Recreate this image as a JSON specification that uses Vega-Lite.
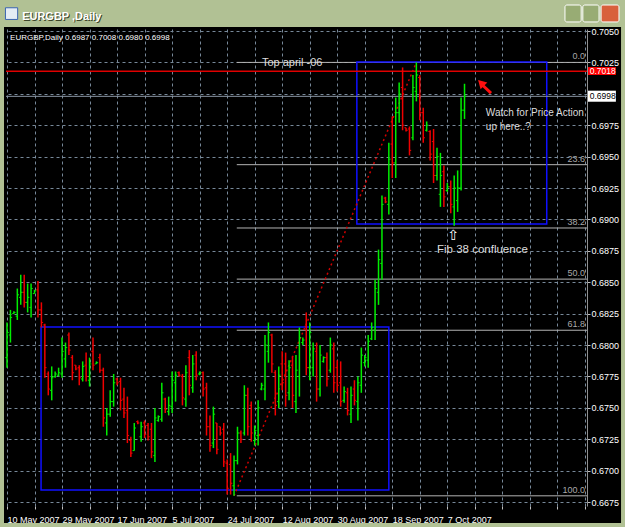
{
"$schema": "https://vega.github.io/schema/vega-lite/v6.json",
"width": 581, "height": 477,
"autosize": {"type": "none"},
"padding": {"left": 6, "top": 29, "right": 38, "bottom": 21},
"background": "#000000",
"config": {"view": {"stroke": null}, "text": {"font": "Liberation Sans"},
  "axis": {"title": null, "labelOverlap": false, "labelBound": false, "labelFlush": false, "labelLimit": 0, "tickCount": 100}},
"datasets": {
"one": [{}],
"frame": [
{"x1": -10, "x2": 190, "y1": 0.70532, "y2": 0.7095},
{"x1": -10, "x2": -0.87, "y1": 0.6600, "y2": 0.70532},
{"x1": 178.5, "x2": 190, "y1": 0.6600, "y2": 0.70532},
{"x1": -10, "x2": 190, "y1": 0.6600, "y2": 0.66584}
],
"boxes": [
{"x1": 9.9, "x2": 111.0, "y1": 0.66846, "y2": 0.68144},
{"x1": 101.7, "x2": 156.9, "y1": 0.68964, "y2": 0.70253}
],
"fib": [
{"lvl": "0.0", "p": 0.7025},
{"lvl": "23.6", "p": 0.69436},
{"lvl": "38.2", "p": 0.68932},
{"lvl": "50.0", "p": 0.68525},
{"lvl": "61.8", "p": 0.68118},
{"lvl": "100.0", "p": 0.6680}
],
"trend": [{"i": 66, "p": 0.6680}, {"i": 119, "p": 0.7025}],
"pbox": [
{"k": "0.7018", "p": 0.7018, "y1": 0.70213, "y2": 0.70150},
{"k": "0.6998", "p": 0.6998, "y1": 0.70025, "y2": 0.69937}
],
"buttons": [
{"g": "min", "x1": 162.2, "x2": 166.9, "y1": 0.70707, "y2": 0.70572},
{"g": "max", "x1": 167.4, "x2": 172.1, "y1": 0.70707, "y2": 0.70572},
{"g": "close", "x1": 172.7, "x2": 177.9, "y1": 0.70707, "y2": 0.70572}
],
"bars": [
{"i":0,"o":0.6790,"h":0.6818,"l":0.6782,"c":0.6810},
{"i":1,"o":0.6808,"h":0.6828,"l":0.6802,"c":0.6822},
{"i":2,"o":0.6825,"h":0.6827,"l":0.6825,"c":0.6826},
{"i":3,"o":0.6823,"h":0.6845,"l":0.6820,"c":0.6840},
{"i":4,"o":0.6838,"h":0.6856,"l":0.6832,"c":0.6842},
{"i":5,"o":0.6842,"h":0.6856,"l":0.6830,"c":0.6834},
{"i":6,"o":0.6834,"h":0.6849,"l":0.6826,"c":0.6838},
{"i":7,"o":0.6830,"h":0.6849,"l":0.6822,"c":0.6845},
{"i":8,"o":0.6841,"h":0.6844,"l":0.6841,"c":0.6843},
{"i":9,"o":0.6844,"h":0.6851,"l":0.6822,"c":0.6828},
{"i":10,"o":0.6828,"h":0.6834,"l":0.6814,"c":0.6818},
{"i":11,"o":0.6816,"h":0.6817,"l":0.6774,"c":0.6782},
{"i":12,"o":0.6777,"h":0.6779,"l":0.6760,"c":0.6765},
{"i":13,"o":0.6764,"h":0.6783,"l":0.6756,"c":0.6774},
{"i":14,"o":0.6775,"h":0.6779,"l":0.6774,"c":0.6777},
{"i":15,"o":0.6776,"h":0.6782,"l":0.6775,"c":0.6778},
{"i":16,"o":0.6777,"h":0.6806,"l":0.6774,"c":0.6795},
{"i":17,"o":0.6789,"h":0.6802,"l":0.6782,"c":0.6798},
{"i":18,"o":0.6808,"h":0.6810,"l":0.6792,"c":0.6796},
{"i":19,"o":0.6790,"h":0.6792,"l":0.6772,"c":0.6778},
{"i":20,"o":0.6784,"h":0.6784,"l":0.6780,"c":0.6781},
{"i":21,"o":0.6782,"h":0.6784,"l":0.6768,"c":0.6774},
{"i":22,"o":0.6773,"h":0.6787,"l":0.6771,"c":0.6783},
{"i":23,"o":0.6784,"h":0.6794,"l":0.6771,"c":0.6775},
{"i":24,"o":0.6772,"h":0.6790,"l":0.6767,"c":0.6785},
{"i":25,"o":0.6795,"h":0.6806,"l":0.6780,"c":0.6784},
{"i":26,"o":0.6785,"h":0.6787,"l":0.6785,"c":0.6786},
{"i":27,"o":0.6790,"h":0.6793,"l":0.6778,"c":0.6780},
{"i":28,"o":0.6780,"h":0.6782,"l":0.6735,"c":0.6742},
{"i":29,"o":0.6738,"h":0.6750,"l":0.6728,"c":0.6745},
{"i":30,"o":0.6745,"h":0.6764,"l":0.6743,"c":0.6755},
{"i":31,"o":0.6755,"h":0.6777,"l":0.6751,"c":0.6770},
{"i":32,"o":0.6773,"h":0.6774,"l":0.6768,"c":0.6770},
{"i":33,"o":0.6771,"h":0.6774,"l":0.6748,"c":0.6756},
{"i":34,"o":0.6757,"h":0.6766,"l":0.6742,"c":0.6746},
{"i":35,"o":0.6748,"h":0.6759,"l":0.6722,"c":0.6728},
{"i":36,"o":0.6724,"h":0.6727,"l":0.6711,"c":0.6714},
{"i":37,"o":0.6716,"h":0.6738,"l":0.6716,"c":0.6734},
{"i":38,"o":0.6739,"h":0.6740,"l":0.6737,"c":0.6738},
{"i":39,"o":0.6727,"h":0.6739,"l":0.6723,"c":0.6735},
{"i":40,"o":0.6738,"h":0.6740,"l":0.6726,"c":0.6729},
{"i":41,"o":0.6736,"h":0.6738,"l":0.6724,"c":0.6727},
{"i":42,"o":0.6733,"h":0.6738,"l":0.6710,"c":0.6715},
{"i":43,"o":0.6712,"h":0.6750,"l":0.6707,"c":0.6742},
{"i":44,"o":0.6740,"h":0.6744,"l":0.6739,"c":0.6743},
{"i":45,"o":0.6741,"h":0.6770,"l":0.6739,"c":0.6762},
{"i":46,"o":0.6757,"h":0.6758,"l":0.6746,"c":0.6749},
{"i":47,"o":0.6747,"h":0.6759,"l":0.6744,"c":0.6752},
{"i":48,"o":0.6751,"h":0.6779,"l":0.6746,"c":0.6772},
{"i":49,"o":0.6770,"h":0.6779,"l":0.6755,"c":0.6776},
{"i":50,"o":0.6778,"h":0.6779,"l":0.6775,"c":0.6776},
{"i":51,"o":0.6775,"h":0.6777,"l":0.6752,"c":0.6758},
{"i":52,"o":0.6757,"h":0.6784,"l":0.6751,"c":0.6778},
{"i":53,"o":0.6790,"h":0.6796,"l":0.6760,"c":0.6768},
{"i":54,"o":0.6766,"h":0.6792,"l":0.6762,"c":0.6785},
{"i":55,"o":0.6792,"h":0.6795,"l":0.6772,"c":0.6776},
{"i":56,"o":0.6777,"h":0.6779,"l":0.6776,"c":0.6778},
{"i":57,"o":0.6778,"h":0.6779,"l":0.6759,"c":0.6765},
{"i":58,"o":0.6766,"h":0.6770,"l":0.6728,"c":0.6735},
{"i":59,"o":0.6735,"h":0.6744,"l":0.6715,"c":0.6720},
{"i":60,"o":0.6722,"h":0.6751,"l":0.6718,"c":0.6745},
{"i":61,"o":0.6738,"h":0.6738,"l":0.6713,"c":0.6717},
{"i":62,"o":0.6735,"h":0.6735,"l":0.6728,"c":0.6730},
{"i":63,"o":0.6733,"h":0.6738,"l":0.6703,"c":0.6707},
{"i":64,"o":0.6706,"h":0.6709,"l":0.6681,"c":0.6686},
{"i":65,"o":0.6705,"h":0.6714,"l":0.6681,"c":0.6690},
{"i":66,"o":0.6688,"h":0.6712,"l":0.6680,"c":0.6708},
{"i":67,"o":0.6708,"h":0.6735,"l":0.6705,"c":0.6730},
{"i":68,"o":0.6730,"h":0.6732,"l":0.6722,"c":0.6725},
{"i":69,"o":0.6730,"h":0.6768,"l":0.6728,"c":0.6760},
{"i":70,"o":0.6760,"h":0.6766,"l":0.6728,"c":0.6735},
{"i":71,"o":0.6752,"h":0.6755,"l":0.6723,"c":0.6730},
{"i":72,"o":0.6724,"h":0.6736,"l":0.6720,"c":0.6732},
{"i":73,"o":0.6728,"h":0.6756,"l":0.6720,"c":0.6750},
{"i":74,"o":0.6765,"h":0.6770,"l":0.6764,"c":0.6768},
{"i":75,"o":0.6765,"h":0.6808,"l":0.6756,"c":0.6800},
{"i":76,"o":0.6795,"h":0.6818,"l":0.6786,"c":0.6810},
{"i":77,"o":0.6808,"h":0.6809,"l":0.6778,"c":0.6785},
{"i":78,"o":0.6778,"h":0.6780,"l":0.6744,"c":0.6752},
{"i":79,"o":0.6755,"h":0.6783,"l":0.6750,"c":0.6776},
{"i":80,"o":0.6785,"h":0.6795,"l":0.6764,"c":0.6770},
{"i":81,"o":0.6785,"h":0.6794,"l":0.6751,"c":0.6760},
{"i":82,"o":0.6762,"h":0.6788,"l":0.6756,"c":0.6782},
{"i":83,"o":0.6784,"h":0.6791,"l":0.6750,"c":0.6760},
{"i":84,"o":0.6755,"h":0.6792,"l":0.6746,"c":0.6780},
{"i":85,"o":0.6775,"h":0.6814,"l":0.6759,"c":0.6806},
{"i":86,"o":0.6802,"h":0.6806,"l":0.6800,"c":0.6804},
{"i":87,"o":0.6815,"h":0.6826,"l":0.6776,"c":0.6782},
{"i":88,"o":0.6782,"h":0.6818,"l":0.6772,"c":0.6810},
{"i":89,"o":0.6782,"h":0.6802,"l":0.6775,"c":0.6797},
{"i":90,"o":0.6795,"h":0.6802,"l":0.6755,"c":0.6765},
{"i":91,"o":0.6765,"h":0.6800,"l":0.6759,"c":0.6792},
{"i":92,"o":0.6787,"h":0.6791,"l":0.6786,"c":0.6790},
{"i":93,"o":0.6790,"h":0.6794,"l":0.6767,"c":0.6773},
{"i":94,"o":0.6780,"h":0.6806,"l":0.6778,"c":0.6800},
{"i":95,"o":0.6797,"h":0.6802,"l":0.6762,"c":0.6770},
{"i":96,"o":0.6782,"h":0.6788,"l":0.6763,"c":0.6768},
{"i":97,"o":0.6770,"h":0.6787,"l":0.6751,"c":0.6755},
{"i":98,"o":0.6756,"h":0.6767,"l":0.6754,"c":0.6763},
{"i":99,"o":0.6762,"h":0.6766,"l":0.6744,"c":0.6748},
{"i":100,"o":0.6745,"h":0.6767,"l":0.6738,"c":0.6760},
{"i":101,"o":0.6765,"h":0.6772,"l":0.6752,"c":0.6756},
{"i":102,"o":0.6755,"h":0.6775,"l":0.6740,"c":0.6770},
{"i":103,"o":0.6768,"h":0.6798,"l":0.6762,"c":0.6792},
{"i":104,"o":0.6786,"h":0.6792,"l":0.6783,"c":0.6790},
{"i":105,"o":0.6788,"h":0.6808,"l":0.6782,"c":0.6803},
{"i":106,"o":0.6805,"h":0.6818,"l":0.6804,"c":0.6814},
{"i":107,"o":0.6812,"h":0.6852,"l":0.6804,"c":0.6845},
{"i":108,"o":0.6842,"h":0.6876,"l":0.6832,"c":0.6868},
{"i":109,"o":0.6865,"h":0.6919,"l":0.6852,"c":0.6912},
{"i":110,"o":0.6917,"h":0.6918,"l":0.6913,"c":0.6914},
{"i":111,"o":0.6912,"h":0.6961,"l":0.6904,"c":0.6948},
{"i":112,"o":0.6960,"h":0.6982,"l":0.6933,"c":0.6945},
{"i":113,"o":0.6945,"h":0.6997,"l":0.6933,"c":0.6985},
{"i":114,"o":0.6985,"h":0.7009,"l":0.6977,"c":0.7000},
{"i":115,"o":0.7005,"h":0.7021,"l":0.6971,"c":0.6975},
{"i":116,"o":0.6973,"h":0.6973,"l":0.6970,"c":0.6971},
{"i":117,"o":0.6972,"h":0.6974,"l":0.6951,"c":0.6955},
{"i":118,"o":0.6965,"h":0.7015,"l":0.6963,"c":0.7005},
{"i":119,"o":0.7002,"h":0.7025,"l":0.6994,"c":0.7015},
{"i":120,"o":0.7013,"h":0.7015,"l":0.6979,"c":0.6985},
{"i":121,"o":0.6985,"h":0.6989,"l":0.6961,"c":0.6965},
{"i":122,"o":0.6971,"h":0.6978,"l":0.6970,"c":0.6975},
{"i":123,"o":0.6970,"h":0.6971,"l":0.6947,"c":0.6952},
{"i":124,"o":0.6962,"h":0.6972,"l":0.6929,"c":0.6935},
{"i":125,"o":0.6935,"h":0.6957,"l":0.6931,"c":0.6950},
{"i":126,"o":0.6920,"h":0.6953,"l":0.6910,"c":0.6935},
{"i":127,"o":0.6938,"h":0.6943,"l":0.6910,"c":0.6918},
{"i":128,"o":0.6923,"h":0.6929,"l":0.6922,"c":0.6926},
{"i":129,"o":0.6926,"h":0.6931,"l":0.6905,"c":0.6912},
{"i":130,"o":0.6910,"h":0.6935,"l":0.6895,"c":0.6925},
{"i":131,"o":0.6915,"h":0.6939,"l":0.6906,"c":0.6925},
{"i":132,"o":0.6925,"h":0.6997,"l":0.6923,"c":0.6987},
{"i":133,"o":0.6987,"h":0.7008,"l":0.6980,"c":0.6998}
]
},
"layer": [
{"data": {"name": "frame"}, "mark": {"type": "rect", "color": "#b1c194"},
 "encoding": {
  "x": {"field": "x1", "type": "quantitative", "scale": {"domain": [-0.2907, 168.605], "nice": false, "zero": false}},
  "x2": {"field": "x2"},
  "y": {"field": "y1", "type": "quantitative", "scale": {"domain": [0.66719, 0.70516], "nice": false, "zero": false}},
  "y2": {"field": "y2"}}},
{"data": {"name": "fib"}, "mark": {"type": "rule", "color": "#b4b4b4", "strokeWidth": 1},
 "encoding": {"x": {"datum": 66.8, "type": "quantitative"}, "x2": {"datum": 168.6},
  "y": {"field": "p", "type": "quantitative"}}},
{"data": {"name": "boxes"}, "mark": {"type": "rect", "fillOpacity": 0, "stroke": "#1010ff", "strokeWidth": 1.5},
 "encoding": {"x": {"field": "x1", "type": "quantitative"}, "x2": {"field": "x2"},
  "y": {"field": "y1", "type": "quantitative"}, "y2": {"field": "y2"}}},
{"data": {"name": "one"}, "mark": {"type": "rule", "color": "#e00000", "strokeWidth": 1.5},
 "encoding": {"x": {"datum": -0.29, "type": "quantitative"}, "x2": {"datum": 168.6},
  "y": {"datum": 0.7018, "type": "quantitative"}}},
{"data": {"name": "one"}, "mark": {"type": "rule", "color": "#8a96a4", "strokeWidth": 1},
 "encoding": {"x": {"datum": -0.29, "type": "quantitative"}, "x2": {"datum": 168.6},
  "y": {"datum": 0.6998, "type": "quantitative"}}},
{"data": {"name": "trend"}, "mark": {"type": "line", "color": "#d00000", "strokeWidth": 1.5, "strokeDash": [2, 3]},
 "encoding": {"x": {"field": "i", "type": "quantitative"}, "y": {"field": "p", "type": "quantitative"}}},
{"data": {"name": "bars"}, "mark": {"type": "rule", "strokeWidth": 1.5},
 "encoding": {
  "x": {"field": "i", "type": "quantitative", "scale": {"domain": [-0.2907, 168.605], "nice": false, "zero": false},
   "axis": {"orient": "bottom", "title": null, "tickCount": 100, "values": [0,8,16,24,32,40,48,56,64,72,80,88,96,104,112,120,128,136,144,152,160,168],
    "labelExpr": "datum.value % 16 === 0 && datum.value <= 128 ? ['10 May 2007','29 May 2007','17 Jun 2007','5 Jul 2007','24 Jul 2007','12 Aug 2007','30 Aug 2007','18 Sep 2007','7 Oct 2007'][datum.value / 16] : ''",
    "grid": true, "gridColor": "#778899", "gridDash": [3, 3], "gridWidth": 1, "domain": false,
    "tickColor": "#c0c0c0", "tickSize": 3, "labelColor": "#ffffff", "labelFont": "Liberation Sans", "labelFontSize": 9,
    "labelAlign": "left", "labelBaseline": "top", "labelPadding": 6, "labelOverlap": false}},
  "y": {"field": "l", "type": "quantitative", "scale": {"domain": [0.66719, 0.70516], "nice": false, "zero": false},
   "axis": {"orient": "right", "title": null, "tickCount": 100, "values": [0.6675,0.67,0.6725,0.675,0.6775,0.68,0.6825,0.685,0.6875,0.69,0.6925,0.695,0.6975,0.7,0.7025,0.705],
    "labelExpr": "abs(datum.value - 0.7) < 0.00001 ? '' : format(datum.value, '.4f')",
    "grid": true, "gridColor": "#778899", "gridDash": [3, 3], "gridWidth": 1, "domain": true, "domainColor": "#909090",
    "tickColor": "#c0c0c0", "tickSize": 3, "labelColor": "#ffffff", "labelFont": "Liberation Sans", "labelFontSize": 9,
    "labelPadding": 1, "labelBaseline": "middle", "labelOverlap": false}},
  "y2": {"field": "h"},
  "color": {"condition": {"test": "datum.c >= datum.o", "value": "#00ee00"}, "value": "#f00000"}}},
{"data": {"name": "bars"}, "mark": {"type": "rule", "strokeWidth": 1, "x2Offset": -1.7},
 "encoding": {"x": {"field": "i", "type": "quantitative"}, "x2": {"field": "i"},
  "y": {"field": "o", "type": "quantitative"},
  "color": {"condition": {"test": "datum.c >= datum.o", "value": "#00ee00"}, "value": "#f00000"}}},
{"data": {"name": "bars"}, "mark": {"type": "rule", "strokeWidth": 1, "x2Offset": 1.7},
 "encoding": {"x": {"field": "i", "type": "quantitative"}, "x2": {"field": "i"},
  "y": {"field": "c", "type": "quantitative"},
  "color": {"condition": {"test": "datum.c >= datum.o", "value": "#00ee00"}, "value": "#f00000"}}},
{"data": {"name": "fib"}, "mark": {"type": "text", "align": "right", "baseline": "bottom", "dy": -1, "fontSize": 9, "color": "#a8a8a8"},
 "encoding": {"x": {"datum": 168.0, "type": "quantitative"}, "y": {"field": "p", "type": "quantitative"}, "text": {"field": "lvl"}}},
{"data": {"name": "one"}, "mark": {"type": "text", "align": "left", "baseline": "middle", "fontSize": 11, "color": "#dddddd"},
 "encoding": {"x": {"datum": 74.1, "type": "quantitative"}, "y": {"datum": 0.70245, "type": "quantitative"}, "text": {"value": "Top april -06"}}},
{"data": {"name": "one"}, "mark": {"type": "text", "align": "left", "baseline": "middle", "fontSize": 10, "color": "#dddddd"},
 "encoding": {"x": {"datum": 139.2, "type": "quantitative"}, "y": {"datum": 0.69847, "type": "quantitative"}, "text": {"value": "Watch for Price Action"}}},
{"data": {"name": "one"}, "mark": {"type": "text", "align": "left", "baseline": "middle", "fontSize": 10, "color": "#dddddd"},
 "encoding": {"x": {"datum": 139.2, "type": "quantitative"}, "y": {"datum": 0.69736, "type": "quantitative"}, "text": {"value": "up here..?"}}},
{"data": {"name": "one"}, "mark": {"type": "text", "align": "left", "baseline": "middle", "fontSize": 11.5, "color": "#dddddd"},
 "encoding": {"x": {"datum": 125.0, "type": "quantitative"}, "y": {"datum": 0.68757, "type": "quantitative"}, "text": {"value": "Fib 38 confluence"}}},
{"data": {"name": "one"}, "mark": {"type": "text", "align": "center", "baseline": "middle", "fontSize": 14, "font": "DejaVu Sans", "color": "#ffffff"},
 "encoding": {"x": {"datum": 129.7, "type": "quantitative"}, "y": {"datum": 0.68868, "type": "quantitative"}, "text": {"value": "⇧"}}},
{"data": {"name": "one"}, "mark": {"type": "rule", "color": "#ff1010", "strokeWidth": 3},
 "encoding": {"x": {"datum": 140.7, "type": "quantitative"}, "x2": {"datum": 138.2},
  "y": {"datum": 0.70006, "type": "quantitative"}, "y2": {"datum": 0.70070}}},
{"data": {"name": "one"}, "mark": {"type": "point", "shape": "triangle-up", "angle": -45, "filled": true, "size": 90, "color": "#ff1010", "opacity": 1},
 "encoding": {"x": {"datum": 137.8, "type": "quantitative"}, "y": {"datum": 0.70086, "type": "quantitative"}}},
{"data": {"name": "pbox"}, "mark": {"type": "rect"},
 "encoding": {"x": {"datum": 168.9, "type": "quantitative"}, "x2": {"datum": 177.0},
  "y": {"field": "y1", "type": "quantitative"}, "y2": {"field": "y2"},
  "color": {"condition": {"test": "datum.k === '0.7018'", "value": "#ff0000"}, "value": "#ffffff"}}},
{"data": {"name": "pbox"}, "mark": {"type": "text", "align": "left", "baseline": "middle", "fontSize": 8.5},
 "encoding": {"x": {"datum": 169.4, "type": "quantitative"}, "y": {"field": "p", "type": "quantitative"},
  "text": {"field": "k"},
  "color": {"condition": {"test": "datum.k === '0.7018'", "value": "#ffffff"}, "value": "#000000"}}},
{"data": {"name": "one"}, "mark": {"type": "text", "align": "left", "baseline": "middle", "fontSize": 8, "color": "#ffffff"},
 "encoding": {"x": {"datum": 0.9, "type": "quantitative"}, "y": {"datum": 0.70444, "type": "quantitative"}, "text": {"value": "EURGBP,Daily  0.6987 0.7008 0.6980 0.6998"}}},
{"data": {"name": "one"}, "mark": {"type": "rect", "fill": "#e4ecf4", "stroke": "#3a64b0", "strokeWidth": 1},
 "encoding": {"x": {"datum": -0.45, "type": "quantitative"}, "x2": {"datum": 3.1},
  "y": {"datum": 0.70685, "type": "quantitative"}, "y2": {"datum": 0.70592}}},
{"data": {"name": "one"}, "mark": {"type": "text", "align": "left", "baseline": "middle", "fontSize": 11, "fontWeight": "bold", "color": "#3a4428", "dx": 1, "dy": 1},
 "encoding": {"x": {"datum": 4.4, "type": "quantitative"}, "y": {"datum": 0.70610, "type": "quantitative"}, "text": {"value": "EURGBP ,Daily"}}},
{"data": {"name": "one"}, "mark": {"type": "text", "align": "left", "baseline": "middle", "fontSize": 11, "fontWeight": "bold", "color": "#ffffff"},
 "encoding": {"x": {"datum": 4.4, "type": "quantitative"}, "y": {"datum": 0.70610, "type": "quantitative"}, "text": {"value": "EURGBP ,Daily"}}},
{"data": {"name": "buttons"}, "mark": {"type": "rect", "stroke": "#ffffff", "strokeWidth": 1, "cornerRadius": 2},
 "encoding": {"x": {"field": "x1", "type": "quantitative"}, "x2": {"field": "x2"},
  "y": {"field": "y1", "type": "quantitative"}, "y2": {"field": "y2"},
  "color": {"condition": {"test": "datum.g === 'close'", "value": "#d8603c"}, "value": "#98ac74"}}}
]
}
